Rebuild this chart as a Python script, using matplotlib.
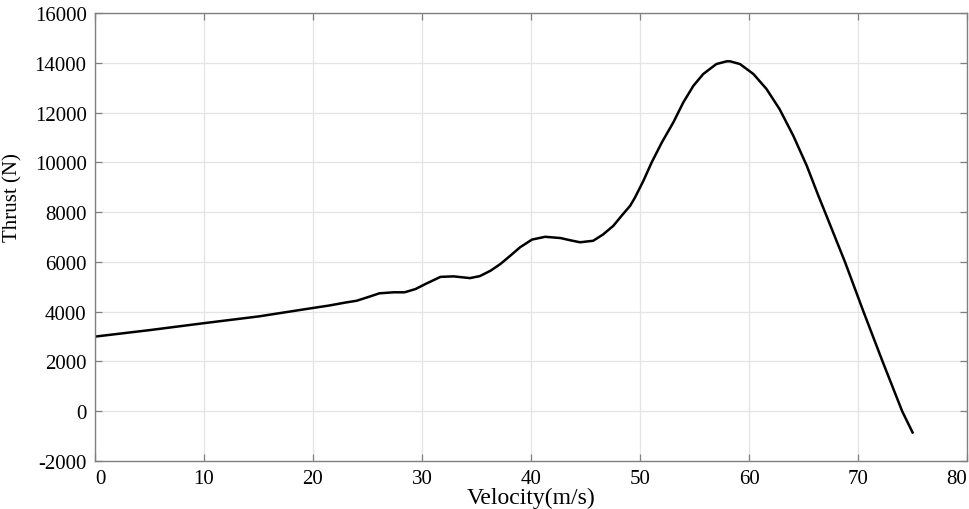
import matplotlib.pyplot as plt

# thrust vs velocity
velocity = [0, 5, 10, 15, 19.7, 21.5, 23.0, 24.0, 25.0, 26.1, 27.4, 28.4, 29.4, 30.3,
            31.7, 32.9, 34.4, 35.3, 36.3, 37.2, 38.1, 39.0, 40.1, 41.3, 42.7, 43.6,
            44.5, 45.7, 46.6, 47.55, 48.3, 49.1, 49.54, 50.3, 51.07, 52.0, 53.06,
            53.97, 54.9, 55.8, 57.0, 57.95, 58.26, 59.17, 60.4, 61.6, 62.8, 64.06,
            65.3, 66.36, 66.97, 68.8, 70.5, 72.25, 74.05, 75.0]
thrust = [3000, 3260, 3540, 3810, 4130, 4250, 4370, 4440, 4580, 4740, 4780, 4780,
          4910, 5110, 5400, 5420, 5350, 5430, 5650, 5920, 6250, 6590, 6900, 7010,
          6960, 6870, 6790, 6850, 7100, 7450, 7850, 8260, 8590, 9250, 10000, 10800,
          11610, 12410, 13080, 13550, 13950, 14060, 14060, 13950, 13550, 12950,
          12140, 11070, 9860, 8660, 8000, 6000, 4000, 2000, 0, -850]

xticks = [0, 10, 20, 30, 40, 50, 60, 70, 80]
yticks = [-2000, 0, 2000, 4000, 6000, 8000, 10000, 12000, 14000, 16000]

plt.rcParams['font.family'] = ['Liberation Serif', 'DejaVu Serif']
plt.rcParams['axes.unicode_minus'] = False

fig = plt.figure(figsize=(9.69, 5.10), dpi=100)
ax = fig.add_axes([0.098, 0.094, 0.900, 0.8785])

ax.plot(velocity, thrust, color='black', lw=1.8, solid_joinstyle='round')

ax.set_xlim(0, 80)
ax.set_ylim(-2000, 16000)
ax.set_xticks(xticks)
ax.set_yticks(yticks)
ax.grid(True, color='#e4e4e4', lw=0.9)
ax.set_axisbelow(True)

for s in ax.spines.values():
    s.set_color('#808080')
    s.set_linewidth(1.0)
ax.tick_params(direction='in', length=5, width=0.9, color='#808080',
               top=True, right=True, labelsize=15, pad=6)
# last x label sits against the right edge
ax.get_xticklabels()[-1].set_horizontalalignment('right')
ax.get_xticklabels()[0].set_horizontalalignment('left')

ax.set_xlabel('Velocity(m/s)', fontsize=17, labelpad=-1)
ax.set_ylabel('Thrust (N)', fontsize=15)
ax.yaxis.set_label_coords(-0.083, 0.59)

fig.savefig('out.png', dpi=100)
